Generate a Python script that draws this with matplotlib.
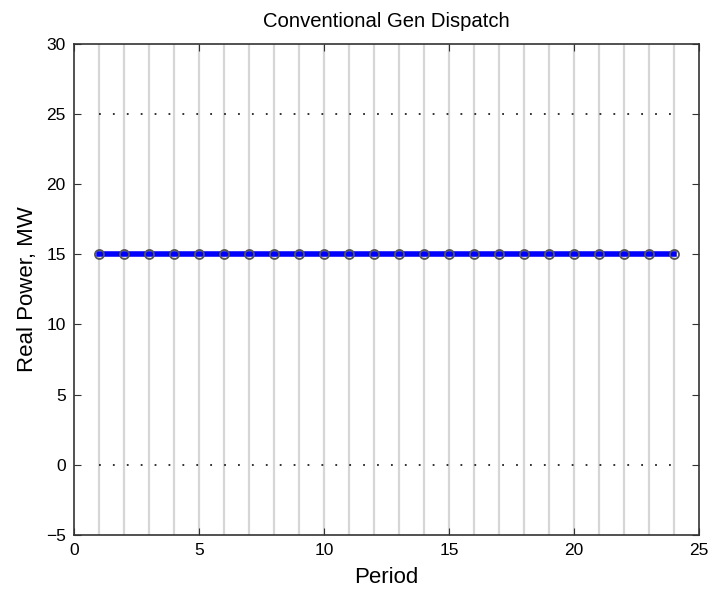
import matplotlib
matplotlib.use("Agg")
import matplotlib.pyplot as plt

# data
periods = list(range(1, 25))
dispatch = [15] * 24
upper_limit = [25] * 24
lower_limit = [0] * 24

plt.rcParams["font.family"] = ["Liberation Sans", "DejaVu Sans"]

fig = plt.figure(figsize=(7.12, 5.93), dpi=100)
ax = fig.add_axes([0.104, 0.098, 0.878, 0.828])

# vertical period markers
for p in periods:
    ax.axvline(p, color="#d6d6d6", lw=1.6, zorder=1)

ax.plot(periods, upper_limit, color="#222222", ls=(0, (1, 6.7)), lw=1.3, zorder=2)
ax.plot(periods, lower_limit, color="#222222", ls=(0, (1, 6.7)), lw=1.3, zorder=2)
ax.plot(periods, dispatch, color="blue", lw=4, zorder=3)
ax.plot(periods, dispatch, ls="none", marker="o", ms=6.5, mfc="none",
        mec="#555555", mew=1.3, zorder=4)

ax.set_xlim(0, 25)
ax.set_ylim(-5, 30)
ax.set_xticks([0, 5, 10, 15, 20, 25])
ax.set_yticks(range(-5, 31, 5))
ax.tick_params(direction="in", top=True, right=True, labelsize=12.5, length=5,
               width=0.8, colors="#333333", labelcolor="black", pad=6)
for s in ax.spines.values():
    s.set_color("#333333")
    s.set_linewidth(1.2)

ax.set_xlabel("Period", fontsize=16, labelpad=6)
ax.set_ylabel("Real Power, MW", fontsize=16, labelpad=6)
ax.set_title("Conventional Gen Dispatch", fontsize=14.6, pad=12)

fig.savefig("out.png", dpi=100)
